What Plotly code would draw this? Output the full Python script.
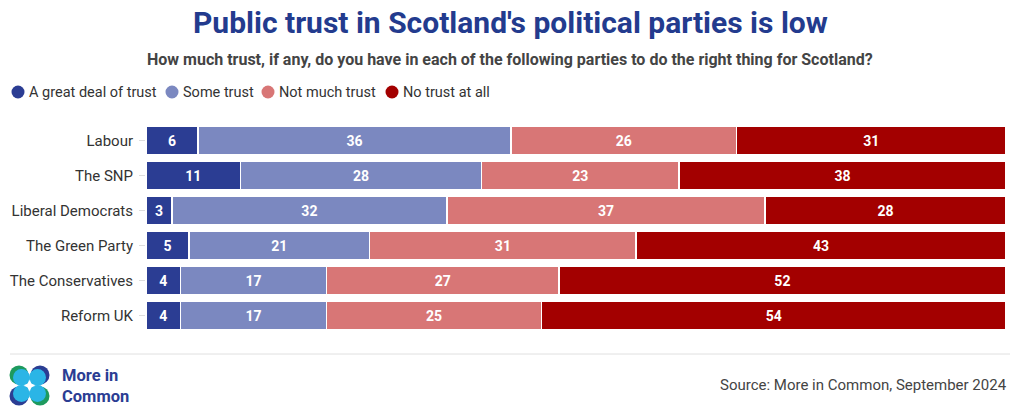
import plotly.graph_objects as go

parties = ["Labour", "The SNP", "Liberal Democrats", "The Green Party", "The Conservatives", "Reform UK"]
series_names = ["A great deal of trust", "Some trust", "Not much trust", "No trust at all"]
great_deal = [6, 11, 3, 5, 4, 4]
some = [36, 28, 32, 21, 17, 17]
not_much = [26, 23, 37, 31, 27, 25]
none_at_all = [31, 38, 28, 43, 52, 54]
colors = ["#2b3d93", "#7b88c0", "#d87676", "#a30000"]

FONT = "Roboto"
L, R, T, B = 146, 1006, 123, 333
W, H = 1020, 419


def px_x(x):
    return (x - L) / (R - L)


def px_y(y):
    return (B - y) / (B - T)


fig = go.Figure()
for name, vals, col in zip(series_names, [great_deal, some, not_much, none_at_all], colors):
    fig.add_trace(go.Bar(
        y=parties, x=vals, name=name, orientation="h",
        marker=dict(color=col, line=dict(color="white", width=1.5)),
        text=[str(v) for v in vals], textposition="inside", insidetextanchor="middle",
        textfont=dict(color="white", size=14, family=FONT, weight="bold"),
        constraintext="none", showlegend=False,
    ))

fig.update_layout(
    barmode="stack", barnorm="percent", bargap=0.2,
    width=W, height=H,
    margin=dict(l=L, r=W - R, t=T, b=H - B, autoexpand=False),
    plot_bgcolor="white", paper_bgcolor="white",
    font=dict(family=FONT, color="#333333", size=13),
    showlegend=False,
    uniformtext=dict(mode=False),
)
fig.update_xaxes(visible=False, range=[0, 100], fixedrange=True)
fig.update_yaxes(autorange="reversed", ticks="outside", ticklen=6, tickcolor="#dddddd",
                 tickfont=dict(size=15, color="#333333", family=FONT), showline=False,
                 ticklabelstandoff=3, automargin=False)

# title & subtitle
fig.add_annotation(text="<b>Public trust in Scotland's political parties is low</b>",
                   x=px_x(510), xref="paper", y=px_y(23), yref="paper", showarrow=False,
                   xanchor="center", yanchor="middle",
                   font=dict(size=30, color="#233b8e", family=FONT))
fig.add_annotation(text="<b>How much trust, if any, do you have in each of the following parties to do the right thing for Scotland?</b>",
                   x=px_x(510), xref="paper", y=px_y(59), yref="paper", showarrow=False,
                   xanchor="center", yanchor="middle",
                   font=dict(size=16, color="#444444", family=FONT))

# manual legend with circle markers
legend_circle_x = [18, 172, 268, 392]
for name, col, cx in zip(series_names, colors, legend_circle_x):
    rr = 6.5
    fig.add_shape(type="circle", xref="paper", yref="paper",
                  x0=px_x(cx - rr), x1=px_x(cx + rr), y0=px_y(92 + rr), y1=px_y(92 - rr),
                  fillcolor=col, line=dict(width=0))
    fig.add_annotation(text=name, xref="paper", yref="paper", x=px_x(cx + 9), xanchor="left",
                       y=px_y(92), yanchor="middle", showarrow=False,
                       font=dict(size=14.5, color="#333333", family=FONT))

# footer line
fig.add_shape(type="line", xref="paper", yref="paper",
              x0=px_x(10), x1=px_x(1010), y0=px_y(354), y1=px_y(354),
              line=dict(color="#e0e0e0", width=1))
fig.add_annotation(text="Source: More in Common, September 2024", xref="paper", yref="paper",
                   x=px_x(1009), xanchor="right", y=px_y(385), yanchor="middle",
                   showarrow=False, font=dict(size=15, color="#444444", family=FONT))

# logo
r = 9.5
outer = [(19, 375, "#1e9a5e"), (40, 375, "#2b3d93"), (19, 396, "#2b3d93"), (40, 396, "#1e9a5e")]
for cx, cy, col in outer:
    fig.add_shape(type="circle", xref="paper", yref="paper",
                  x0=px_x(cx - r), x1=px_x(cx + r), y0=px_y(cy + r), y1=px_y(cy - r),
                  fillcolor=col, line=dict(width=0), layer="above")
inner = [(21.5, 377.5), (37.5, 377.5), (21.5, 393.5), (37.5, 393.5)]
for cx, cy in inner:
    fig.add_shape(type="circle", xref="paper", yref="paper",
                  x0=px_x(cx - 8.5), x1=px_x(cx + 8.5), y0=px_y(cy + 8.5), y1=px_y(cy - 8.5),
                  fillcolor="#2bb5e6", line=dict(width=0), layer="above")
cx0, cy0, s = 29.5, 385.5, 5
fig.add_shape(type="path", xref="paper", yref="paper",
              path=(f"M {px_x(cx0)},{px_y(cy0 - s)} Q {px_x(cx0)},{px_y(cy0)} {px_x(cx0 + s)},{px_y(cy0)} "
                    f"Q {px_x(cx0)},{px_y(cy0)} {px_x(cx0)},{px_y(cy0 + s)} "
                    f"Q {px_x(cx0)},{px_y(cy0)} {px_x(cx0 - s)},{px_y(cy0)} "
                    f"Q {px_x(cx0)},{px_y(cy0)} {px_x(cx0)},{px_y(cy0 - s)} Z"),
              fillcolor="white", line=dict(color="white", width=1.5), layer="above")
fig.add_annotation(text="<b>More in<br>Common</b>", xref="paper", yref="paper",
                   x=px_x(60), xanchor="left", y=px_y(385.5), yanchor="middle", align="left",
                   showarrow=False, font=dict(size=16.5, color="#2b3d93", family=FONT))

fig.write_html("out.html", config={"displayModeBar": False},
               post_script="document.body.style.margin='0';document.body.style.overflow='hidden';")
